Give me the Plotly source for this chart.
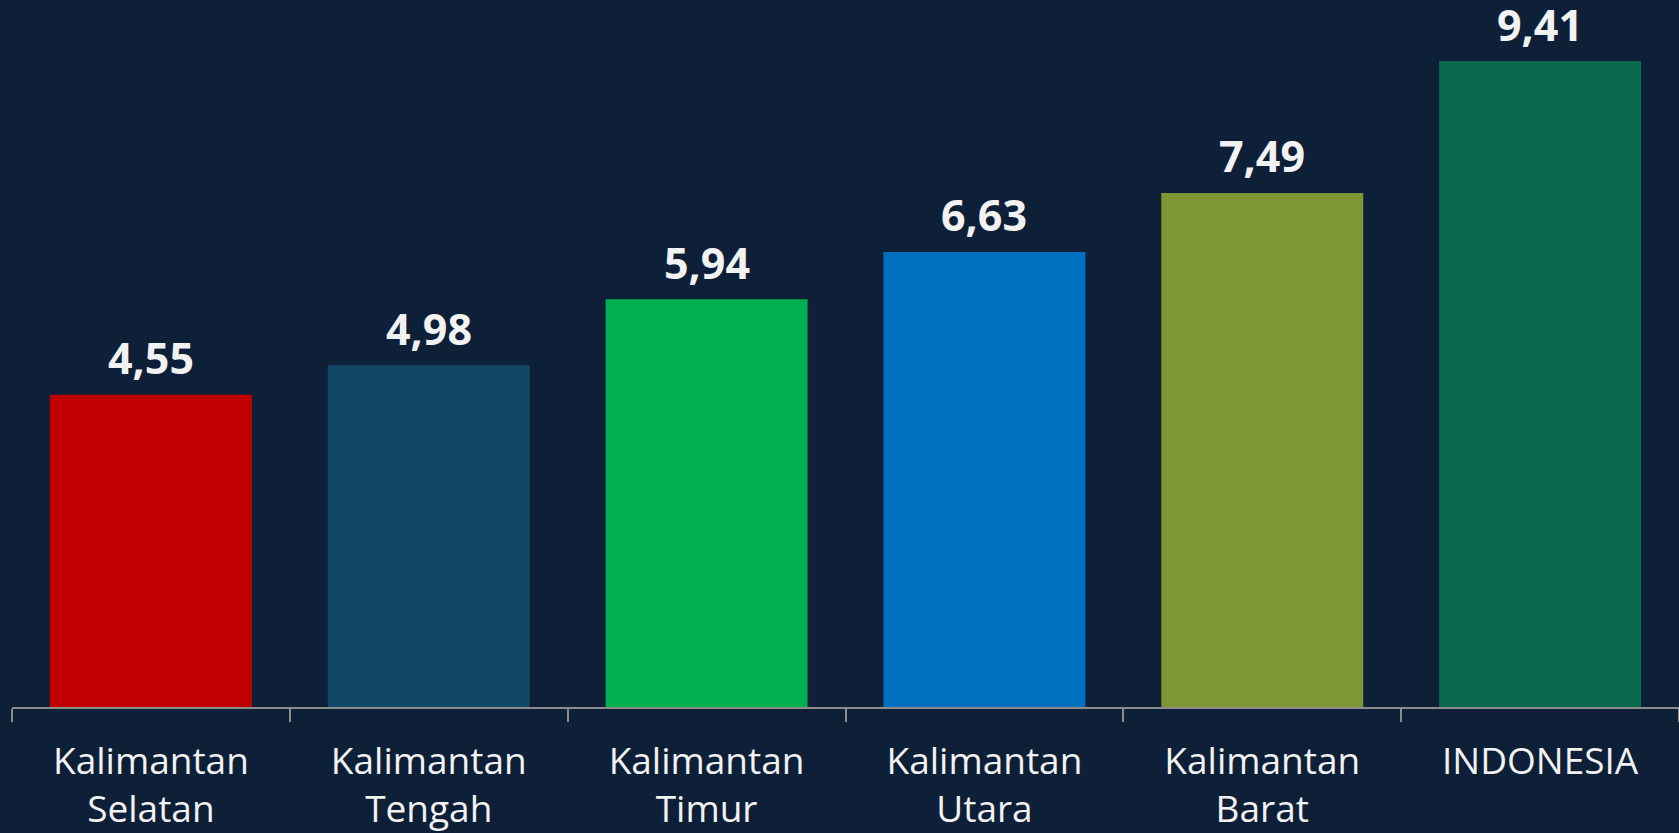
import plotly.graph_objects as go

categories = ["Kalimantan<br>Selatan", "Kalimantan<br>Tengah", "Kalimantan<br>Timur",
              "Kalimantan<br>Utara", "Kalimantan<br>Barat", "INDONESIA"]
values = [4.55, 4.98, 5.94, 6.63, 7.49, 9.41]
value_labels = ["4,55", "4,98", "5,94", "6,63", "7,49", "9,41"]
bar_colors = ["#C00000", "#134766", "#00B050", "#0070C0", "#7E9734", "#0A684C"]

BG = "#0E2038"
TXT = "#F2F2F2"

fig = go.Figure(go.Bar(
    x=categories, y=values,
    marker=dict(color=bar_colors, line=dict(width=0)),
    hoverinfo="skip",
))

for c, v, t in zip(categories, values, value_labels):
    fig.add_annotation(x=c, y=v, text=t, showarrow=False, yanchor="middle",
                       yshift=37, font=dict(family="Open Sans", size=43, color=TXT, weight="bold"))

fig.update_layout(
    width=1679, height=833,
    paper_bgcolor=BG, plot_bgcolor=BG,
    margin=dict(l=12, r=0, t=0, b=126),
    bargap=0.273,
    showlegend=False,
    font=dict(family="Open Sans", color=TXT, size=37),
    xaxis=dict(
        showline=True, linecolor="#8C8C8C", linewidth=1.5,
        ticks="outside", tickson="boundaries", ticklen=13, tickcolor="#8C8C8C", tickwidth=1.5,
        tickfont=dict(family="Open Sans", size=37, color=TXT),
        ticklabelstandoff=21,
        automargin=False,
        showgrid=False, zeroline=False,
    ),
    yaxis=dict(range=[0, 10.30], visible=False, showgrid=False, zeroline=False, automargin=False),
)

fig.write_html("out.html", config={"displayModeBar": False})

with open("out.html", "r", encoding="utf-8") as f:
    html = f.read()
html = html.replace("<body>", '<body style="margin:0;padding:0;background:#0E2038;">', 1)
with open("out.html", "w", encoding="utf-8") as f:
    f.write(html)
